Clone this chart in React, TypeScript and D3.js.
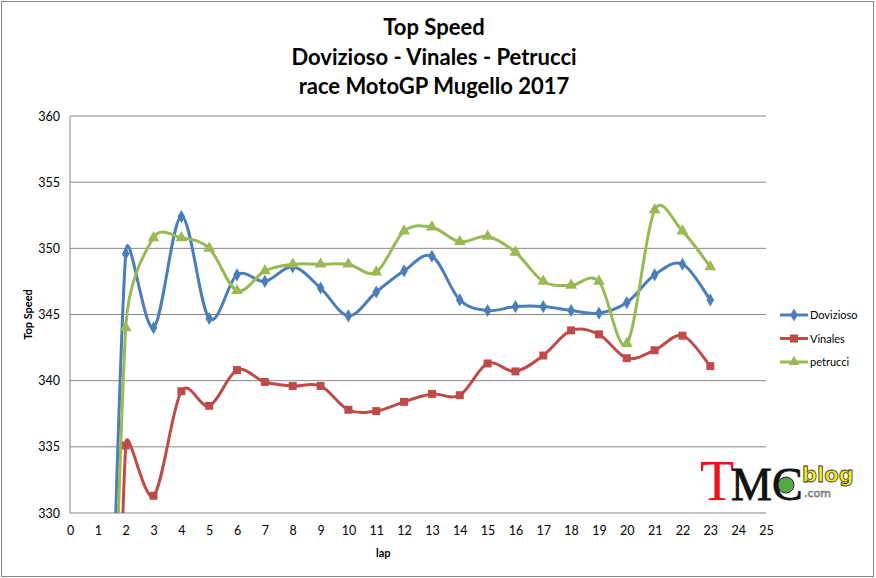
import React, { useEffect, useRef } from 'react';
import * as d3 from 'd3';

// laps 1..23; lap 1 values fall far below the axis minimum and get clipped
const laps = d3.range(1, 24);
const dovizioso = [280, 349.6, 344.0, 352.4, 344.7, 348.0, 347.5, 348.6, 347.0, 344.9, 346.7, 348.3, 349.4, 346.1, 345.3, 345.6, 345.6, 345.3, 345.1, 345.9, 348.0, 348.8, 346.1];
const vinales = [250, 335.1, 331.3, 339.2, 338.1, 340.8, 339.9, 339.6, 339.6, 337.8, 337.7, 338.4, 339.0, 338.9, 341.3, 340.7, 341.9, 343.8, 343.5, 341.7, 342.3, 343.4, 341.1];
const petrucci = [275, 344.0, 350.8, 350.8, 350.0, 346.8, 348.3, 348.8, 348.8, 348.8, 348.2, 351.3, 351.6, 350.5, 350.9, 349.7, 347.5, 347.2, 347.5, 342.8, 352.9, 351.3, 348.6];

const seriesNames = ['Dovizioso', 'Vinales', 'petrucci'];
const seriesColors = ['#4a7ebb', '#be4b48', '#98b954'];
const seriesShapes = [d3.symbolDiamond, d3.symbolSquare, d3.symbolTriangle];
const xTicks = d3.range(0, 26);
const yTicks = [330, 335, 340, 345, 350, 355, 360];
const titleLines = ['Top Speed', 'Dovizioso - Vinales - Petrucci', 'race MotoGP Mugello 2017'];

const W = 876;
const H = 578;
const FONT = 'Lato, "Open Sans", sans-serif';

type Pt = [number, number];

// spreadsheet-style smoothed line: bezier arms of 1/6, clamped to half the segment
const smoothPath = (pts: Pt[]): string => {
    const p = d3.path();
    const dist = (a: Pt, b: Pt) => Math.hypot(b[0] - a[0], b[1] - a[1]);
    p.moveTo(pts[0][0], pts[0][1]);
    for (let i = 0; i < pts.length - 1; i++) {
        const p0 = pts[i - 1] || pts[i];
        const p1 = pts[i];
        const p2 = pts[i + 1];
        const p3 = pts[i + 2] || pts[i + 1];
        const d12 = dist(p1, p2);
        const d02 = dist(p0, p2);
        const d13 = dist(p1, p3);
        const f1 = d02 / 6 < d12 / 2 ? 1 / 6 : d12 / (2 * d02);
        const f2 = d13 / 6 < d12 / 2 ? 1 / 6 : d12 / (2 * d13);
        p.bezierCurveTo(
            p1[0] + (p2[0] - p0[0]) * f1, p1[1] + (p2[1] - p0[1]) * f1,
            p2[0] - (p3[0] - p1[0]) * f2, p2[1] - (p3[1] - p1[1]) * f2,
            p2[0], p2[1],
        );
    }
    return p.toString();
};

export default function App() {
    const ref = useRef<SVGSVGElement>(null);

    useEffect(() => {
        if (!ref.current) return;
        const svg = d3.select(ref.current);
        svg.selectAll('*').remove();

        const margin = { top: 116, right: 110, bottom: 65, left: 70 };
        const width = W - margin.left - margin.right;
        const height = H - margin.top - margin.bottom;

        svg.append('rect')
            .attr('x', 1.5).attr('y', 1.5)
            .attr('width', W - 4).attr('height', H - 3)
            .attr('fill', '#fff')
            .attr('stroke', '#868686');

        const title = svg.append('text')
            .attr('text-anchor', 'middle')
            .style('font-family', FONT)
            .style('font-weight', 700)
            .style('font-size', '22px')
            .attr('fill', '#000');
        titleLines.forEach((t, i) => {
            title.append('tspan').attr('x', 434).attr('y', 35 + i * 29.5).text(t);
        });

        const g = svg.append('g').attr('transform', `translate(${margin.left},${margin.top})`);

        const x = d3.scaleLinear().domain([0, 25]).range([0, width]);
        const y = d3.scaleLinear().domain([330, 360]).range([height, 0]);

        // gridlines
        g.append('g')
            .selectAll('line')
            .data(yTicks)
            .enter()
            .append('line')
            .attr('x1', 0).attr('x2', width)
            .attr('y1', (d: number) => y(d)).attr('y2', (d: number) => y(d))
            .attr('stroke', '#868686')
            .attr('stroke-width', 1);

        g.append('line')
            .attr('x1', 0).attr('x2', 0)
            .attr('y1', 0).attr('y2', height)
            .attr('stroke', '#868686');

        const yAxis = g.append('g').call(d3.axisLeft(y).tickValues(yTicks).tickSize(0).tickPadding(10));
        yAxis.select('.domain').remove();
        yAxis.selectAll('text')
            .style('font-family', FONT)
            .style('font-size', '12.5px')
            .attr('fill', '#000');

        const xAxis = g.append('g')
            .attr('transform', `translate(0,${height})`)
            .call(d3.axisBottom(x).tickValues(xTicks).tickFormat(d3.format('d')).tickSize(0).tickPadding(13));
        xAxis.select('.domain').remove();
        xAxis.selectAll('text')
            .style('font-family', FONT)
            .style('font-size', '12.5px')
            .attr('fill', '#000');

        g.append('text')
            .attr('x', x(11.25)).attr('y', height + 44)
            .attr('text-anchor', 'middle')
            .style('font-family', FONT)
            .style('font-weight', 700)
            .style('font-size', '11px')
            .text('lap');

        g.append('text')
            .attr('transform', `translate(${-38},${height / 2}) rotate(-90)`)
            .attr('text-anchor', 'middle')
            .style('font-family', FONT)
            .style('font-weight', 700)
            .style('font-size', '11px')
            .text('Top Speed');

        svg.append('clipPath').attr('id', 'plotClip')
            .append('rect')
            .attr('x', 0).attr('y', -10)
            .attr('width', width).attr('height', height + 10);

        const allSeries = [dovizioso, vinales, petrucci];

        allSeries.forEach((vals, si) => {
            const sg = g.append('g').attr('clip-path', 'url(#plotClip)');
            const pts: Pt[] = vals.map((v, i) => [x(laps[i]), y(v)]);
            sg.append('path')
                .attr('d', smoothPath(pts))
                .attr('fill', 'none')
                .attr('stroke', seriesColors[si])
                .attr('stroke-width', 3)
                .attr('stroke-linejoin', 'round');
            const sym = d3.symbol().type(seriesShapes[si]).size(si === 1 ? 64 : si === 0 ? 50 : 60);
            sg.selectAll('path.pt')
                .data(vals)
                .enter()
                .append('path')
                .attr('class', 'pt')
                .attr('d', sym)
                .attr('transform', (d: number, i: number) => `translate(${x(laps[i])},${y(d)})`)
                .attr('fill', seriesColors[si]);
        });

        // legend
        const lg = svg.append('g').attr('transform', 'translate(780,315)');
        seriesNames.forEach((name, i) => {
            const row = lg.append('g').attr('transform', `translate(0,${i * 23.5})`);
            row.append('line')
                .attr('x1', 0).attr('x2', 28)
                .attr('stroke', seriesColors[i])
                .attr('stroke-width', 3);
            row.append('path')
                .attr('d', d3.symbol().type(seriesShapes[i]).size(i === 1 ? 64 : 50)())
                .attr('transform', 'translate(14,0)')
                .attr('fill', seriesColors[i]);
            row.append('text')
                .attr('x', 30).attr('y', 4)
                .style('font-family', FONT)
                .style('font-size', '11px')
                .text(name);
        });

        // watermark logo
        const logo = svg.append('g').attr('transform', 'translate(700,500)');
        logo.append('text')
            .attr('x', 0).attr('y', 0)
            .style('font-family', '"Liberation Serif", serif')
            .style('font-size', '56px')
            .attr('fill', '#e8141b')
            .text('T');
        logo.append('text')
            .attr('x', 31).attr('y', 0)
            .style('font-family', '"Liberation Serif", serif')
            .style('font-size', '46px')
            .attr('fill', '#111')
            .attr('stroke', '#111')
            .attr('stroke-width', 0.8)
            .text('MC');
        logo.append('circle')
            .attr('cx', 86).attr('cy', -15).attr('r', 8)
            .attr('fill', '#5aa845').attr('stroke', '#222');
        logo.append('text')
            .attr('x', 102).attr('y', -18)
            .style('font-family', '"DejaVu Sans", sans-serif')
            .style('font-weight', 700)
            .style('font-size', '21px')
            .attr('fill', '#f2e81c')
            .attr('stroke', '#333')
            .attr('stroke-width', 0.8)
            .text('blog');
        logo.append('text')
            .attr('x', 104).attr('y', -3)
            .style('font-family', '"DejaVu Sans", sans-serif')
            .style('font-size', '11px')
            .attr('fill', '#ddd')
            .attr('stroke', '#666')
            .attr('stroke-width', 0.6)
            .text('.com');
    }, []);

    return (
        <div style={{ position: 'absolute', left: 0, top: 0 }}>
            <svg ref={ref} width={W} height={H} style={{ display: 'block', background: '#fff' }} />
        </div>
    );
}
